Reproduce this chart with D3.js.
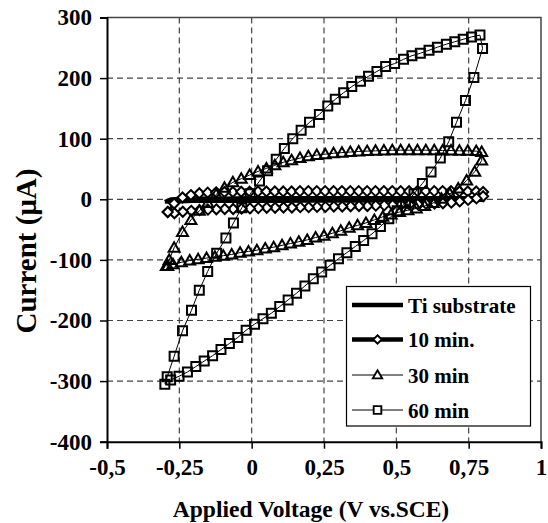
<!DOCTYPE html>
<html><head><meta charset="utf-8">
<script src="https://cdn.jsdelivr.net/npm/d3@7"></script>
<style>
html,body{margin:0;padding:0;background:#fff;}
text{font-family:"Liberation Serif","Times New Roman",serif;font-weight:bold;fill:#000;}
</style></head>
<body>
<svg id="chart" width="548" height="523"></svg>
<script>
// ---------- DATA ----------
const seriesNames = ["Ti substrate", "10 min.", "30 min", "60 min"];
const xTickValues = [-0.5, -0.25, 0, 0.25, 0.5, 0.75, 1];
const xTickLabels = ["-0,5", "-0,25", "0", "0,25", "0,5", "0,75", "1"];
const yTickValues = [-400, -300, -200, -100, 0, 100, 200, 300];
const yTickLabels = ["-400", "-300", "-200", "-100", "0", "100", "200", "300"];

// Ti substrate (forward then reverse)
const tiV = [-0.3, -0.28, -0.25, -0.2, -0.1, 0, 0.1, 0.2, 0.3, 0.4, 0.5, 0.6, 0.7, 0.8,
             0.8, 0.7, 0.6, 0.5, 0.4, 0.3, 0.2, 0.1, 0, -0.1, -0.2, -0.25, -0.3];
const tiI = [-4, 0, 1, 1.5, 1.5, 2, 2, 2, 2, 2, 2, 2, 2, 2,
             -1, -1.5, -2, -2, -2.5, -2.5, -2.5, -3, -3, -3, -3, -3.5, -4];

// 10 min
const m10V = [-0.29, -0.268, -0.239, -0.21, -0.181, -0.152, -0.123, -0.094, -0.065, -0.036, -0.007,
  0.022, 0.051, 0.08, 0.109, 0.138, 0.167, 0.196, 0.225, 0.254, 0.283, 0.312, 0.341, 0.37, 0.399,
  0.428, 0.457, 0.486, 0.515, 0.544, 0.573, 0.602, 0.631, 0.66, 0.689, 0.718, 0.747, 0.776, 0.8,
  0.8, 0.777, 0.748, 0.719, 0.69, 0.661, 0.632, 0.603, 0.574, 0.545, 0.516, 0.487, 0.458, 0.429,
  0.4, 0.371, 0.342, 0.313, 0.284, 0.255, 0.226, 0.197, 0.168, 0.139, 0.11, 0.081, 0.052, 0.023,
  -0.006, -0.035, -0.064, -0.093, -0.122, -0.151, -0.18, -0.209, -0.238, -0.267, -0.29];
const m10I = [-21, -7, 3, 7, 10, 11, 11.5, 12, 12, 12.5, 12.5,
  13, 13, 13, 13, 13, 13.5, 13.5, 13.5, 13.5, 13.5, 13.5, 13.5, 13.5, 13.5,
  13.5, 13.5, 13.5, 13.5, 13.5, 13.5, 13.5, 13.5, 13.5, 13.5, 13, 13, 13, 12,
  5, 1.5, -1, -3.5, -5.5, -6.5, -7, -7.5, -8, -8.5, -9, -9.5, -10, -10.5,
  -11, -11, -11.5, -12, -12, -12.5, -12.5, -13, -13, -13.5, -13.5, -14, -14, -14.5,
  -15, -15.5, -16, -16, -16.5, -17, -18, -19, -20.5, -23, -21];

// 30 min
const m30V = [-0.29, -0.285, -0.268, -0.239, -0.21, -0.181, -0.152, -0.123, -0.094, -0.065, -0.036, -0.007,
  0.022, 0.051, 0.08, 0.109, 0.138, 0.167, 0.196, 0.225, 0.254, 0.283, 0.312, 0.341, 0.37, 0.399,
  0.428, 0.457, 0.486, 0.515, 0.544, 0.573, 0.602, 0.631, 0.66, 0.689, 0.718, 0.747, 0.776, 0.795,
  0.795, 0.771, 0.743, 0.714, 0.685, 0.656, 0.627, 0.598, 0.569, 0.54, 0.511, 0.482, 0.453, 0.424,
  0.395, 0.366, 0.337, 0.308, 0.279, 0.25, 0.221, 0.192, 0.163, 0.134, 0.105, 0.076, 0.047, 0.018,
  -0.011, -0.04, -0.069, -0.098, -0.127, -0.156, -0.185, -0.214, -0.243, -0.272, -0.295];
const m30I = [-110, -100, -80, -54, -34, -19, -6, 8, 19, 28, 34, 40,
  46, 51, 56, 61, 64.5, 68, 71, 73, 74.5, 76, 77, 78, 79, 79.5,
  80, 80.5, 81, 81, 81, 81, 81, 81, 80.5, 80.5, 80, 80, 79.5, 78,
  64, 45.5, 31, 18, 9, 1, -6, -11, -15, -18, -21, -25, -29, -34,
  -39, -43, -47, -52, -56, -60, -63, -67, -70, -73, -76, -79, -81, -84,
  -86, -88, -91, -93, -95, -97, -99, -101, -104, -107, -110];

// 60 min
const m60V = [-0.3, -0.292, -0.268, -0.239, -0.208, -0.181, -0.152, -0.121, -0.089, -0.063, -0.034, -0.005,
  0.027, 0.055, 0.085, 0.113, 0.142, 0.171, 0.2, 0.234, 0.263, 0.289, 0.318, 0.346, 0.376, 0.404,
  0.433, 0.463, 0.494, 0.525, 0.554, 0.583, 0.613, 0.642, 0.673, 0.702, 0.731, 0.76, 0.789,
  0.798, 0.768, 0.739, 0.708, 0.681, 0.652, 0.62, 0.59, 0.561, 0.532, 0.503, 0.474, 0.445, 0.416,
  0.387, 0.358, 0.329, 0.3, 0.271, 0.242, 0.213, 0.184, 0.155, 0.126, 0.097, 0.068, 0.039, 0.01,
  -0.019, -0.048, -0.077, -0.106, -0.135, -0.164, -0.193, -0.222, -0.251, -0.28];
const m60I = [-305, -293, -259, -217, -183, -150, -119, -89, -64, -39, -14, 9,
  30, 47, 66, 84, 100, 114, 127, 140, 154, 165, 176, 186, 195, 203,
  211, 219, 224, 231, 237, 241, 246, 251, 256, 260, 264, 268, 271,
  249, 201, 163, 127, 95, 68, 45, 26, 9, -6, -19, -32, -45, -57,
  -68, -78, -88, -98, -109, -120, -131, -143, -155, -166, -177, -188, -197, -206,
  -216, -228, -238, -248, -258, -267, -276, -285, -292, -298];

// ---------- CHART ----------
const svg = d3.select("#chart");
const L = 107, R = 541, T = 17.5, B = 441.7;
const x = d3.scaleLinear().domain([-0.5, 1]).range([L, R]);
const y = d3.scaleLinear().domain([-400, 300]).range([B, T]);

// grid
const grid = svg.append("g");
xTickValues.filter(v => v > -0.5 && v < 1).forEach(v => {
  grid.append("line").attr("x1", x(v)).attr("x2", x(v)).attr("y1", T).attr("y2", B)
    .attr("stroke", "#444").attr("stroke-width", 1.2).attr("stroke-dasharray", "6,4");
});
yTickValues.filter(v => v > -400 && v < 300).forEach(v => {
  grid.append("line").attr("x1", L).attr("x2", R).attr("y1", y(v)).attr("y2", y(v))
    .attr("stroke", "#444").attr("stroke-width", 1.2).attr("stroke-dasharray", "6,4");
});

// top/right border
svg.append("path").attr("d", `M${L},${T}H${R}V${B}`).attr("fill", "none")
  .attr("stroke", "#444").attr("stroke-width", 1.5);

// axes
const xAxis = d3.axisBottom(x).tickValues(xTickValues)
  .tickFormat((d, i) => xTickLabels[i]).tickSize(7).tickPadding(10);
const gx = svg.append("g").attr("transform", `translate(0,${B})`).call(xAxis);
gx.select(".domain").attr("stroke", "#000").attr("stroke-width", 2);
gx.selectAll(".tick line").attr("stroke", "#000").attr("stroke-width", 1.5);
gx.selectAll(".tick text").attr("font-size", 23).attr("font-family", null).attr("dy", "0.71em");

const yAxis = d3.axisLeft(y).tickValues(yTickValues)
  .tickFormat((d, i) => yTickLabels[i]).tickSize(7).tickPadding(8);
const gy = svg.append("g").attr("transform", `translate(${L},0)`).call(yAxis);
gy.select(".domain").attr("stroke", "#000").attr("stroke-width", 2);
gy.selectAll(".tick line").attr("stroke", "#000").attr("stroke-width", 1.5);
gy.selectAll(".tick text").attr("font-size", 23).attr("font-family", null);

// axis titles
svg.append("text").attr("x", 311).attr("y", 517).attr("text-anchor", "middle")
  .attr("font-size", 23.5).text("Applied Voltage (V vs.SCE)");
svg.append("text").attr("transform", "translate(36,251) rotate(-90)").attr("text-anchor", "middle")
  .attr("font-size", 29).text("Current (μA)");

// marker shapes
const shapes = {
  diamond: "M0,-5L5,0L0,5L-5,0Z",
  triangle: "M0,-5.5L5.5,4L-5.5,4Z",
  square: "M-4.5,-4.5H4.5V4.5H-4.5Z"
};

const series = [
  {V: tiV, I: tiI, width: 4, marker: null, fill: "none"},
  {V: m10V, I: m10I, width: 3.5, marker: "diamond", fill: "#fff"},
  {V: m30V, I: m30I, width: 1, marker: "triangle", fill: "none"},
  {V: m60V, I: m60I, width: 1, marker: "square", fill: "none"}
];

const line = d3.line().x(d => x(d[0])).y(d => y(d[1]));
series.forEach(s => {
  const pts = s.V.map((v, i) => [v, s.I[i]]);
  const g = svg.append("g");
  g.append("path").datum(pts).attr("d", line).attr("fill", "none")
    .attr("stroke", "#000").attr("stroke-width", s.width).attr("stroke-linejoin", "round");
  if (s.marker) {
    g.selectAll("path.m").data(pts).join("path").attr("class", "m")
      .attr("d", shapes[s.marker])
      .attr("transform", d => `translate(${x(d[0])},${y(d[1])})`)
      .attr("fill", s.fill).attr("stroke", "#000").attr("stroke-width", 2);
  }
});

// legend
const lg = svg.append("g");
lg.append("rect").attr("x", 346.5).attr("y", 286.5).attr("width", 184).attr("height", 139.5)
  .attr("fill", "#fff").attr("stroke", "#000").attr("stroke-width", 1.2);
const legendY = [305, 339.5, 375, 410];
series.forEach((s, i) => {
  const yy = legendY[i];
  lg.append("line").attr("x1", 352).attr("x2", 403).attr("y1", yy).attr("y2", yy)
    .attr("stroke", "#000").attr("stroke-width", s.width === 1 ? 1 : 4.5);
  if (s.marker) {
    lg.append("path").attr("d", shapes[s.marker])
      .attr("transform", `translate(377.5,${yy}) scale(0.85)`)
      .attr("fill", "#fff").attr("stroke", "#000").attr("stroke-width", 2.2);
  }
  lg.append("text").attr("x", 408).attr("y", yy + 7.5).attr("font-size", 21).text(seriesNames[i]);
});
</script>
</body></html>
